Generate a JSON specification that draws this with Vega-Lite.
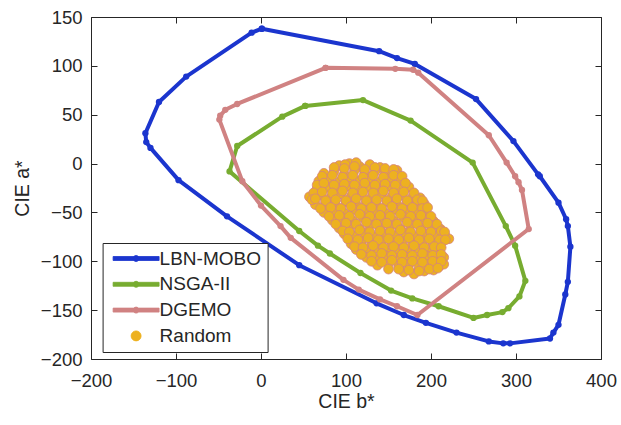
{
  "$schema": "https://vega.github.io/schema/vega-lite/v6.json",
  "width": 510,
  "height": 342,
  "autosize": {"type": "none"},
  "padding": {"left": 91, "top": 17, "right": 20, "bottom": 66},
  "background": "white",
  "config": {
    "view": {"stroke": null},
    "font": "Liberation Sans",
    "axis": {
      "grid": false,
      "domainColor": "#262626",
      "tickColor": "#262626",
      "labelColor": "#262626",
      "titleColor": "#262626",
      "labelFont": "Liberation Sans",
      "titleFont": "Liberation Sans",
      "labelFontSize": 18.5,
      "titleFontSize": 19.5,
      "titleFontWeight": "normal",
      "tickSize": -6,
      "labelFlush": false,
      "labelOverlap": false,
      "labelBound": false
    }
  },
  "datasets": {
    "lines": [
      {"s": "LBN-MOBO", "i": 1, "b": 1, "a": 138},
      {"s": "LBN-MOBO", "i": 2, "b": -11, "a": 134},
      {"s": "LBN-MOBO", "i": 3, "b": -88, "a": 89},
      {"s": "LBN-MOBO", "i": 4, "b": -120, "a": 63},
      {"s": "LBN-MOBO", "i": 5, "b": -136, "a": 31},
      {"s": "LBN-MOBO", "i": 6, "b": -135, "a": 22},
      {"s": "LBN-MOBO", "i": 7, "b": -130, "a": 16},
      {"s": "LBN-MOBO", "i": 8, "b": -97, "a": -17},
      {"s": "LBN-MOBO", "i": 9, "b": -40, "a": -54},
      {"s": "LBN-MOBO", "i": 10, "b": 45, "a": -104},
      {"s": "LBN-MOBO", "i": 11, "b": 136, "a": -143},
      {"s": "LBN-MOBO", "i": 12, "b": 168, "a": -155},
      {"s": "LBN-MOBO", "i": 13, "b": 194, "a": -163},
      {"s": "LBN-MOBO", "i": 14, "b": 230, "a": -173},
      {"s": "LBN-MOBO", "i": 15, "b": 268, "a": -182},
      {"s": "LBN-MOBO", "i": 16, "b": 285, "a": -184},
      {"s": "LBN-MOBO", "i": 17, "b": 293, "a": -184},
      {"s": "LBN-MOBO", "i": 18, "b": 340, "a": -179},
      {"s": "LBN-MOBO", "i": 19, "b": 344, "a": -173},
      {"s": "LBN-MOBO", "i": 20, "b": 350, "a": -165},
      {"s": "LBN-MOBO", "i": 21, "b": 358, "a": -134},
      {"s": "LBN-MOBO", "i": 22, "b": 361, "a": -121},
      {"s": "LBN-MOBO", "i": 23, "b": 364, "a": -85},
      {"s": "LBN-MOBO", "i": 24, "b": 361, "a": -64},
      {"s": "LBN-MOBO", "i": 25, "b": 359, "a": -57},
      {"s": "LBN-MOBO", "i": 26, "b": 350, "a": -40},
      {"s": "LBN-MOBO", "i": 27, "b": 328, "a": -13},
      {"s": "LBN-MOBO", "i": 28, "b": 326, "a": -11},
      {"s": "LBN-MOBO", "i": 29, "b": 297, "a": 23},
      {"s": "LBN-MOBO", "i": 30, "b": 253, "a": 66},
      {"s": "LBN-MOBO", "i": 31, "b": 181, "a": 102},
      {"s": "LBN-MOBO", "i": 32, "b": 160, "a": 108},
      {"s": "LBN-MOBO", "i": 33, "b": 139, "a": 115},
      {"s": "LBN-MOBO", "i": 34, "b": 1, "a": 138},
      {"s": "NSGA-II", "i": 1, "b": 52, "a": 59},
      {"s": "NSGA-II", "i": 2, "b": 25, "a": 48},
      {"s": "NSGA-II", "i": 3, "b": -28, "a": 18},
      {"s": "NSGA-II", "i": 4, "b": -37, "a": -8},
      {"s": "NSGA-II", "i": 5, "b": 45, "a": -69},
      {"s": "NSGA-II", "i": 6, "b": 67, "a": -84},
      {"s": "NSGA-II", "i": 7, "b": 81, "a": -92},
      {"s": "NSGA-II", "i": 8, "b": 117, "a": -112},
      {"s": "NSGA-II", "i": 9, "b": 153, "a": -130},
      {"s": "NSGA-II", "i": 10, "b": 178, "a": -138},
      {"s": "NSGA-II", "i": 11, "b": 209, "a": -146},
      {"s": "NSGA-II", "i": 12, "b": 250, "a": -158},
      {"s": "NSGA-II", "i": 13, "b": 266, "a": -155},
      {"s": "NSGA-II", "i": 14, "b": 284, "a": -152},
      {"s": "NSGA-II", "i": 15, "b": 291, "a": -148},
      {"s": "NSGA-II", "i": 16, "b": 304, "a": -136},
      {"s": "NSGA-II", "i": 17, "b": 311, "a": -120},
      {"s": "NSGA-II", "i": 18, "b": 299, "a": -84},
      {"s": "NSGA-II", "i": 19, "b": 288, "a": -64},
      {"s": "NSGA-II", "i": 20, "b": 249, "a": 1},
      {"s": "NSGA-II", "i": 21, "b": 176, "a": 44},
      {"s": "NSGA-II", "i": 22, "b": 120, "a": 65},
      {"s": "NSGA-II", "i": 23, "b": 52, "a": 59},
      {"s": "DGEMO", "i": 1, "b": 76, "a": 98},
      {"s": "DGEMO", "i": 2, "b": -28, "a": 61},
      {"s": "DGEMO", "i": 3, "b": -42, "a": 55},
      {"s": "DGEMO", "i": 4, "b": -48, "a": 49},
      {"s": "DGEMO", "i": 5, "b": -49, "a": 45},
      {"s": "DGEMO", "i": 6, "b": -22, "a": -18},
      {"s": "DGEMO", "i": 7, "b": 0, "a": -43},
      {"s": "DGEMO", "i": 8, "b": 23, "a": -64},
      {"s": "DGEMO", "i": 9, "b": 35, "a": -76},
      {"s": "DGEMO", "i": 10, "b": 97, "a": -119},
      {"s": "DGEMO", "i": 11, "b": 115, "a": -129},
      {"s": "DGEMO", "i": 12, "b": 140, "a": -139},
      {"s": "DGEMO", "i": 13, "b": 160, "a": -146},
      {"s": "DGEMO", "i": 14, "b": 184, "a": -155},
      {"s": "DGEMO", "i": 15, "b": 315, "a": -67},
      {"s": "DGEMO", "i": 16, "b": 307, "a": -27},
      {"s": "DGEMO", "i": 17, "b": 303, "a": -19},
      {"s": "DGEMO", "i": 18, "b": 299, "a": -13},
      {"s": "DGEMO", "i": 19, "b": 289, "a": 1},
      {"s": "DGEMO", "i": 20, "b": 268, "a": 29},
      {"s": "DGEMO", "i": 21, "b": 185, "a": 93},
      {"s": "DGEMO", "i": 22, "b": 179, "a": 96},
      {"s": "DGEMO", "i": 23, "b": 158, "a": 97},
      {"s": "DGEMO", "i": 24, "b": 76, "a": 98}
    ],
    "rnd": [
      {"b": 92, "a": -2}, {"b": 104, "a": 0}, {"b": 116, "a": -3}, {"b": 128, "a": -1}, {"b": 140, "a": -4}, {"b": 99, "a": -1}, {"b": 112, "a": 1}, {"b": 160, "a": -7},
      {"b": 74, "a": -10}, {"b": 86, "a": -8}, {"b": 98, "a": -11}, {"b": 110, "a": -7}, {"b": 122, "a": -10}, {"b": 134, "a": -8}, {"b": 146, "a": -11}, {"b": 158, "a": -9},
      {"b": 68, "a": -18}, {"b": 80, "a": -16}, {"b": 92, "a": -19}, {"b": 104, "a": -15}, {"b": 116, "a": -18}, {"b": 128, "a": -16}, {"b": 140, "a": -19}, {"b": 152, "a": -15}, {"b": 164, "a": -18},
      {"b": 66, "a": -26}, {"b": 78, "a": -24}, {"b": 90, "a": -27}, {"b": 102, "a": -23}, {"b": 114, "a": -26}, {"b": 126, "a": -24}, {"b": 138, "a": -27}, {"b": 150, "a": -23}, {"b": 162, "a": -26}, {"b": 174, "a": -24},
      {"b": 57, "a": -34}, {"b": 70, "a": -32}, {"b": 82, "a": -35}, {"b": 94, "a": -31}, {"b": 106, "a": -34}, {"b": 118, "a": -32}, {"b": 130, "a": -35}, {"b": 142, "a": -31}, {"b": 154, "a": -34}, {"b": 166, "a": -32}, {"b": 178, "a": -35}, {"b": 187, "a": -35},
      {"b": 64, "a": -42}, {"b": 76, "a": -40}, {"b": 88, "a": -43}, {"b": 100, "a": -39}, {"b": 112, "a": -42}, {"b": 124, "a": -40}, {"b": 136, "a": -43}, {"b": 148, "a": -39}, {"b": 160, "a": -42}, {"b": 172, "a": -40}, {"b": 184, "a": -43}, {"b": 192, "a": -41},
      {"b": 74, "a": -50}, {"b": 86, "a": -48}, {"b": 98, "a": -51}, {"b": 110, "a": -47}, {"b": 122, "a": -50}, {"b": 134, "a": -48}, {"b": 146, "a": -51}, {"b": 158, "a": -47}, {"b": 170, "a": -50}, {"b": 182, "a": -48}, {"b": 194, "a": -51},
      {"b": 84, "a": -58}, {"b": 96, "a": -56}, {"b": 108, "a": -59}, {"b": 120, "a": -55}, {"b": 132, "a": -58}, {"b": 144, "a": -56}, {"b": 156, "a": -59}, {"b": 168, "a": -55}, {"b": 180, "a": -58}, {"b": 192, "a": -56}, {"b": 203, "a": -59},
      {"b": 92, "a": -66}, {"b": 104, "a": -64}, {"b": 116, "a": -67}, {"b": 128, "a": -63}, {"b": 140, "a": -66}, {"b": 152, "a": -64}, {"b": 164, "a": -67}, {"b": 176, "a": -63}, {"b": 188, "a": -66}, {"b": 200, "a": -64}, {"b": 211, "a": -67},
      {"b": 98, "a": -72}, {"b": 110, "a": -74}, {"b": 122, "a": -71}, {"b": 134, "a": -75}, {"b": 146, "a": -72}, {"b": 158, "a": -74}, {"b": 170, "a": -71}, {"b": 182, "a": -75}, {"b": 194, "a": -72}, {"b": 206, "a": -74}, {"b": 216, "a": -73}, {"b": 221, "a": -77},
      {"b": 106, "a": -82}, {"b": 118, "a": -80}, {"b": 130, "a": -83}, {"b": 142, "a": -79}, {"b": 154, "a": -82}, {"b": 166, "a": -80}, {"b": 178, "a": -83}, {"b": 190, "a": -79}, {"b": 202, "a": -82}, {"b": 212, "a": -81},
      {"b": 112, "a": -88}, {"b": 124, "a": -90}, {"b": 136, "a": -87}, {"b": 148, "a": -91}, {"b": 160, "a": -88}, {"b": 172, "a": -90}, {"b": 184, "a": -87}, {"b": 196, "a": -91}, {"b": 208, "a": -88},
      {"b": 124, "a": -96}, {"b": 136, "a": -98}, {"b": 148, "a": -95}, {"b": 160, "a": -99}, {"b": 172, "a": -96}, {"b": 184, "a": -98}, {"b": 196, "a": -95}, {"b": 208, "a": -99}, {"b": 215, "a": -96},
      {"b": 137, "a": -104}, {"b": 150, "a": -102}, {"b": 162, "a": -105}, {"b": 174, "a": -103}, {"b": 186, "a": -106}, {"b": 198, "a": -103}, {"b": 210, "a": -105}, {"b": 215, "a": -103},
      {"b": 168, "a": -111}, {"b": 180, "a": -113}, {"b": 192, "a": -110}, {"b": 203, "a": -109},
      {"b": 86, "a": -4}, {"b": 98, "a": -5}, {"b": 110, "a": -3}, {"b": 122, "a": -6}, {"b": 134, "a": -4}, {"b": 146, "a": -5}, {"b": 156, "a": -6},
      {"b": 72, "a": -13}, {"b": 84, "a": -12}, {"b": 96, "a": -14}, {"b": 108, "a": -12}, {"b": 120, "a": -14}, {"b": 132, "a": -12}, {"b": 144, "a": -14}, {"b": 156, "a": -12}, {"b": 166, "a": -13},
      {"b": 66, "a": -22}, {"b": 74, "a": -20}, {"b": 86, "a": -22}, {"b": 98, "a": -21}, {"b": 110, "a": -22}, {"b": 122, "a": -20}, {"b": 134, "a": -22}, {"b": 146, "a": -21}, {"b": 158, "a": -22}, {"b": 170, "a": -20},
      {"b": 62, "a": -30}, {"b": 72, "a": -29}, {"b": 84, "a": -30}, {"b": 96, "a": -28}, {"b": 108, "a": -30}, {"b": 120, "a": -29}, {"b": 132, "a": -30}, {"b": 144, "a": -28}, {"b": 156, "a": -30}, {"b": 168, "a": -29}, {"b": 180, "a": -30},
      {"b": 60, "a": -37}, {"b": 64, "a": -36}, {"b": 76, "a": -38}, {"b": 88, "a": -37}, {"b": 100, "a": -38}, {"b": 112, "a": -36}, {"b": 124, "a": -38}, {"b": 136, "a": -37}, {"b": 148, "a": -38}, {"b": 160, "a": -36}, {"b": 172, "a": -38}, {"b": 184, "a": -37}, {"b": 190, "a": -38},
      {"b": 70, "a": -46}, {"b": 82, "a": -45}, {"b": 94, "a": -46}, {"b": 106, "a": -44}, {"b": 118, "a": -46}, {"b": 130, "a": -45}, {"b": 142, "a": -46}, {"b": 154, "a": -44}, {"b": 166, "a": -46}, {"b": 178, "a": -45}, {"b": 190, "a": -46}, {"b": 196, "a": -45},
      {"b": 80, "a": -54}, {"b": 92, "a": -53}, {"b": 104, "a": -54}, {"b": 116, "a": -52}, {"b": 128, "a": -54}, {"b": 140, "a": -53}, {"b": 152, "a": -54}, {"b": 164, "a": -52}, {"b": 176, "a": -54}, {"b": 188, "a": -53}, {"b": 200, "a": -54},
      {"b": 88, "a": -62}, {"b": 100, "a": -61}, {"b": 112, "a": -62}, {"b": 124, "a": -60}, {"b": 136, "a": -62}, {"b": 148, "a": -61}, {"b": 160, "a": -62}, {"b": 172, "a": -60}, {"b": 184, "a": -62}, {"b": 196, "a": -61}, {"b": 207, "a": -62},
      {"b": 96, "a": -69}, {"b": 104, "a": -70}, {"b": 116, "a": -68}, {"b": 128, "a": -70}, {"b": 140, "a": -69}, {"b": 152, "a": -70}, {"b": 164, "a": -68}, {"b": 176, "a": -70}, {"b": 188, "a": -69}, {"b": 200, "a": -70}, {"b": 212, "a": -69}, {"b": 216, "a": -70},
      {"b": 102, "a": -77}, {"b": 114, "a": -78}, {"b": 126, "a": -76}, {"b": 138, "a": -78}, {"b": 150, "a": -77}, {"b": 162, "a": -78}, {"b": 174, "a": -76}, {"b": 186, "a": -78}, {"b": 198, "a": -77}, {"b": 210, "a": -78}, {"b": 217, "a": -78},
      {"b": 110, "a": -85}, {"b": 120, "a": -86}, {"b": 132, "a": -84}, {"b": 144, "a": -86}, {"b": 156, "a": -85}, {"b": 168, "a": -86}, {"b": 180, "a": -84}, {"b": 192, "a": -86}, {"b": 204, "a": -85}, {"b": 212, "a": -86},
      {"b": 118, "a": -93}, {"b": 130, "a": -94}, {"b": 142, "a": -92}, {"b": 154, "a": -94}, {"b": 166, "a": -93}, {"b": 178, "a": -94}, {"b": 190, "a": -92}, {"b": 202, "a": -94}, {"b": 212, "a": -93},
      {"b": 130, "a": -100}, {"b": 142, "a": -101}, {"b": 154, "a": -99}, {"b": 166, "a": -101}, {"b": 178, "a": -100}, {"b": 190, "a": -101}, {"b": 202, "a": -100}, {"b": 212, "a": -100},
      {"b": 150, "a": -108}, {"b": 162, "a": -108}, {"b": 174, "a": -109}, {"b": 186, "a": -110}, {"b": 198, "a": -108}, {"b": 208, "a": -107}
    ]
  },
  "layer": [
    {
      "data": {"name": "lines"},
      "mark": {"type": "line", "strokeWidth": 4, "strokeJoin": "round"},
      "encoding": {
        "x": {
          "field": "b", "type": "quantitative",
          "scale": {"domain": [-200, 400], "nice": false, "zero": false},
          "axis": {"orient": "bottom", "title": "CIE b*", "values": [-200, -100, 0, 100, 200, 300, 400], "labelPadding": 18, "titlePadding": 3}
        },
        "y": {
          "field": "a", "type": "quantitative",
          "scale": {"domain": [-200, 150], "nice": false, "zero": false},
          "axis": {"orient": "left", "title": "CIE a*", "values": [-200, -150, -100, -50, 0, 50, 100, 150], "labelPadding": 15, "titlePadding": 8}
        },
        "color": {
          "field": "s", "type": "nominal",
          "scale": {"domain": ["LBN-MOBO", "NSGA-II", "DGEMO", "Random"], "range": ["#1B35CE", "#77AC30", "#D08282", "#EDB120"]},
          "legend": {
            "title": null,
            "orient": "none",
            "legendX": 11.6,
            "legendY": 226,
            "padding": 6,
            "rowPadding": 5.8,
            "symbolOffset": 18,
            "labelOffset": 14,
            "labelFont": "Liberation Sans",
            "labelFontSize": 19,
            "labelColor": "#262626",
            "labelLimit": 0,
            "strokeColor": "#262626",
            "fillColor": "white",
            "symbolSize": 100,
            "symbolStrokeWidth": 0,
            "encode": {
              "symbols": {
                "update": {
                  "shape": {"signal": "datum.value === 'Random' ? 'M-1,0A1,1 0 1,1 1,0A1,1 0 1,1 -1,0Z' : 'M-4.6,-0.4L4.6,-0.4L4.6,0.4L-4.6,0.4ZM-0.6,0A0.6,0.6 0 1,1 0.6,0A0.6,0.6 0 1,1 -0.6,0Z'"},
                  "fill": {"scale": "color", "field": "value"},
                  "stroke": {"signal": "datum.value === 'Random' ? '#D4837F' : 'transparent'"},
                  "strokeWidth": {"value": 0.8},
                  "size": {"value": 100},
                  "opacity": {"value": 1}
                }
              }
            }
          }
        },
        "order": {"field": "i", "type": "quantitative"}
      }
    },
    {
      "data": {"name": "lines"},
      "mark": {"type": "circle", "size": 40, "opacity": 1},
      "encoding": {
        "x": {"field": "b", "type": "quantitative", "axis": null},
        "y": {"field": "a", "type": "quantitative", "axis": null},
        "color": {"field": "s", "type": "nominal"}
      }
    },
    {
      "data": {"name": "rnd"},
      "mark": {"type": "circle", "size": 95, "fill": "#EDB120", "stroke": "#D4837F", "strokeWidth": 0.8, "opacity": 1},
      "encoding": {
        "x": {"field": "b", "type": "quantitative", "axis": null},
        "y": {"field": "a", "type": "quantitative", "axis": null}
      }
    },
    {
      "data": {"name": "rnd"},
      "mark": {"type": "point", "opacity": 0},
      "encoding": {
        "x": {"field": "b", "type": "quantitative", "axis": {"orient": "top", "labels": false, "title": null, "values": [-200, -100, 0, 100, 200, 300, 400]}},
        "y": {"field": "a", "type": "quantitative", "axis": {"orient": "right", "labels": false, "title": null, "values": [-200, -150, -100, -50, 0, 50, 100, 150]}}
      }
    }
  ],
  "resolve": {"axis": {"x": "independent", "y": "independent"}}
}
